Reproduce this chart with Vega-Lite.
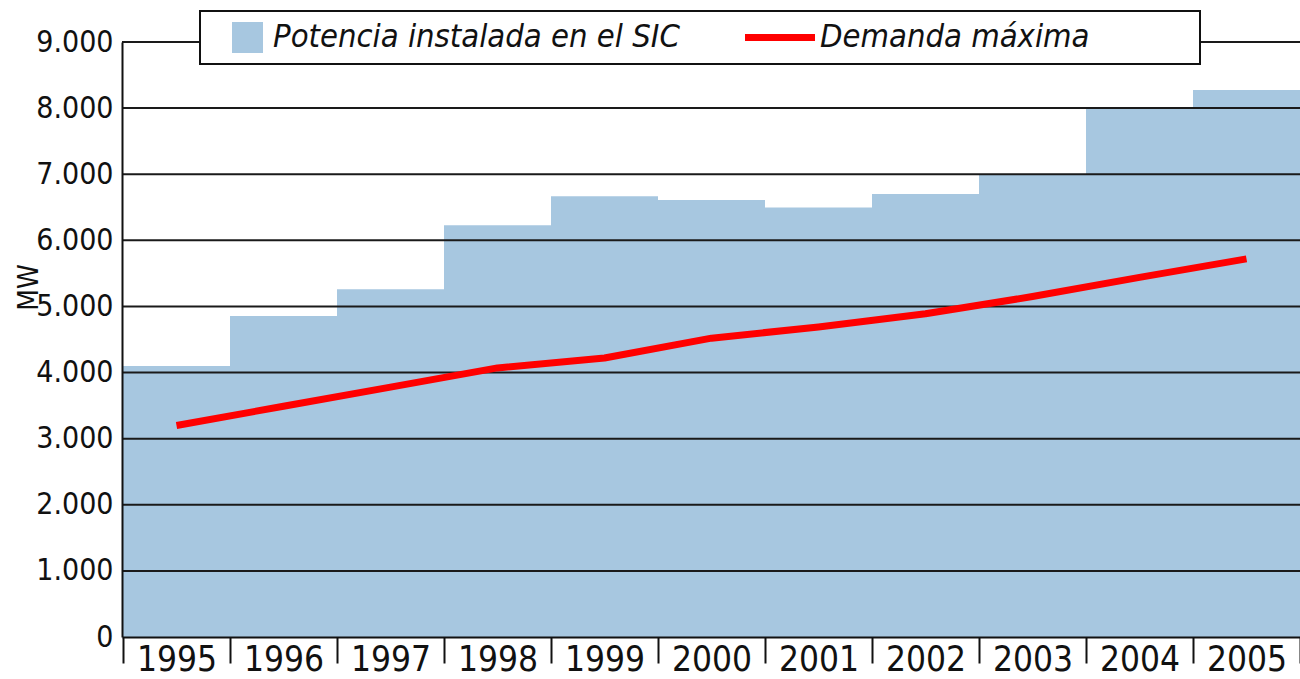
{
  "$schema": "https://vega.github.io/schema/vega-lite/v6.json",
  "width": 1178,
  "height": 595,
  "autosize": {"type": "none"},
  "padding": {"left": 122, "top": 42, "right": 0, "bottom": 42},
  "background": "white",
  "config": {
    "view": {"stroke": null},
    "font": "Liberation Sans Narrow, DejaVu Sans Condensed, sans-serif"
  },
  "data": {
    "values": [
      {"year": "1995", "potencia": 4100, "demanda": 3200},
      {"year": "1996", "potencia": 4855, "demanda": 3490},
      {"year": "1997", "potencia": 5260, "demanda": 3780},
      {"year": "1998", "potencia": 6230, "demanda": 4070},
      {"year": "1999", "potencia": 6665, "demanda": 4220},
      {"year": "2000", "potencia": 6610, "demanda": 4520},
      {"year": "2001", "potencia": 6495, "demanda": 4690},
      {"year": "2002", "potencia": 6700, "demanda": 4890},
      {"year": "2003", "potencia": 6990, "demanda": 5150},
      {"year": "2004", "potencia": 8000, "demanda": 5440},
      {"year": "2005", "potencia": 8275, "demanda": 5720}
    ]
  },
  "layer": [
    {
      "mark": {"type": "bar"},
      "encoding": {
        "x": {
          "field": "year",
          "type": "ordinal",
          "scale": {"paddingInner": 0, "paddingOuter": 0, "round": true},
          "axis": {
            "title": null,
            "labelAngle": 0,
            "labelFontSize": 35,
            "labelColor": "#111111",
            "labelPadding": -21,
            "ticks": true,
            "tickSize": 26,
            "tickWidth": 2,
            "tickColor": "#111111",
            "tickBand": "extent",
            "domainColor": "#111111",
            "domainWidth": 2,
            "grid": false,
            "zindex": 1
          }
        },
        "y": {
          "field": "potencia",
          "type": "quantitative",
          "scale": {"domain": [0, 9000], "nice": false},
          "axis": {
            "title": "MW",
            "titleFontSize": 28,
            "titleFontWeight": "normal",
            "titleColor": "#111111",
            "titleX": -93,
            "titleY": 245,
            "titleAlign": "center",
            "titleBaseline": "middle",
            "values": [0, 1000, 2000, 3000, 4000, 5000, 6000, 7000, 8000, 9000],
            "labelExpr": "replace(format(datum.value, ','), ',', '.')",
            "labelFontSize": 30,
            "labelColor": "#111111",
            "labelPadding": 9,
            "ticks": false,
            "grid": false,
            "domainColor": "#111111",
            "domainWidth": 2,
            "zindex": 1
          }
        },
        "color": {
          "datum": "Potencia instalada en el SIC",
          "scale": {
            "domain": ["Potencia instalada en el SIC", "Demanda máxima"],
            "range": ["#a7c7e0", "#ff0000"]
          },
          "legend": {
            "title": null,
            "orient": "none",
            "legendX": 78,
            "legendY": -31,
            "direction": "horizontal",
            "columns": 2,
            "gridAlign": "each",
            "columnPadding": 0,
            "padding": 10,
            "strokeColor": "#111111",
            "fillColor": "white",
            "labelFontSize": 32.5,
            "labelFontStyle": "italic",
            "labelColor": "#111111",
            "labelLimit": 0,
            "labelOffset": 10,
            "symbolType": "square",
            "symbolSize": 961,
            "symbolStrokeWidth": 0,
            "symbolOpacity": 1,
            "zindex": 1,
            "encode": {
              "legend": {"update": {"strokeWidth": {"value": 2}}},
              "symbols": {
                "update": {
                  "shape": {"signal": "datum.value === 'Demanda máxima' ? 'M-1,0L1,0M11.31,0' : 'M-1,-1L1,-1L1,1L-1,1ZM-2.42,0M31.13,0'"},
                  "size": {"signal": "datum.value === 'Demanda máxima' ? 4900 : 961"},
                  "strokeWidth": {"signal": "datum.value === 'Demanda máxima' ? 7 : 0"},
                  "stroke": {"signal": "datum.value === 'Demanda máxima' ? '#ff0000' : 'transparent'"},
                  "x": {"signal": "datum.value === 'Demanda máxima' ? 35 : 37.5"}
                }
              },
              "labels": {
                "update": {"x": {"signal": "datum.value === 'Demanda máxima' ? 75 : 63"}}
              }
            }
          }
        }
      }
    },
    {
      "data": {
        "values": [
          {"mw": 1000}, {"mw": 2000}, {"mw": 3000}, {"mw": 4000}, {"mw": 5000},
          {"mw": 6000}, {"mw": 7000}, {"mw": 8000}, {"mw": 9000}
        ]
      },
      "mark": {"type": "rule", "color": "#1a1a1a", "strokeWidth": 2},
      "encoding": {"y": {"field": "mw", "type": "quantitative"}}
    },
    {
      "mark": {"type": "line", "strokeWidth": 7, "strokeJoin": "round", "strokeCap": "butt"},
      "encoding": {
        "x": {"field": "year", "type": "ordinal"},
        "y": {"field": "demanda", "type": "quantitative"},
        "color": {"datum": "Demanda máxima"}
      }
    }
  ]
}
